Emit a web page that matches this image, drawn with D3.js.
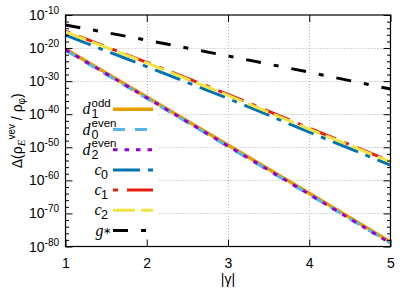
<!DOCTYPE html>
<html><head><meta charset="utf-8">
<script src="https://cdn.jsdelivr.net/npm/d3@7"></script>
<style>body{margin:0;background:#fff}svg{display:block}</style>
</head><body>
<svg id="chart" width="415" height="290"></svg>
<script>
// ---- data (log10 of Δ(ρ_E^vev/ρ_φ)) ----
const gammaValues = [1, 2, 3, 4, 5];
const d1oddLog10  = [-20.3, -34.8, -49.3, -63.9, -78.6];
const d0evenLog10 = [-20.7, -35.2, -49.8, -64.3, -79.0];
const d2evenLog10 = [-20.5, -35.0, -49.6, -64.2, -79.0];
const c0Log10     = [-16.1, -25.6, -35.2, -45.4, -55.4];
const c1Log10     = [-14.9, -24.3, -34.0, -44.2, -54.2];
const c2Log10     = [-15.1, -24.5, -34.3, -44.5, -54.4];
const gstarLog10  = [-13.0, -17.6, -22.4, -27.3, -32.4];

const seriesKeys   = ["d1odd", "d0even", "d2even", "c0", "c1", "c2", "gstar"];
const legendMain   = ["d", "d", "d", "c", "c", "c", "g"];
const legendSub    = ["1", "0", "2", "0", "1", "2", "∗"];
const legendSup    = ["odd", "even", "even", "", "", "", ""];
const xTickValues  = [1, 2, 3, 4, 5];
const yTickExponents = [-10, -20, -30, -40, -50, -60, -70, -80];

const seriesData = [d1oddLog10, d0evenLog10, d2evenLog10, c0Log10, c1Log10, c2Log10, gstarLog10];

// ---- styles ----
const styles = {
  d1odd:  {color: "#E69F00", dash: null,            width: 3.5},
  d0even: {color: "#56B4E9", dash: "12,10",         width: 3},
  d2even: {color: "#9400D3", dash: "4.5,7",         width: 3},
  c0:     {color: "#0072B2", dash: "27,8,5,8",      width: 3},
  c1:     {color: "#E51E10", dash: "5,9,27,9",      width: 3},
  c2:     {color: "#F0E442", dash: "22,6",          width: 3},
  gstar:  {color: "#000000", dash: "15,13,5,13",    width: 3}
};

const L = 65.5, R = 390.5, T = 15, B = 246.5;
const svg = d3.select("#chart");
const x = d3.scaleLinear().domain([1, 5]).range([L, R]);
const y = d3.scaleLog().domain([1e-80, 1e-10]).range([B, T]);
const pw = (e) => Math.pow(10, e);

const sans = "'Liberation Sans', Arial, Helvetica, sans-serif";
const serif = "'Liberation Serif', 'Times New Roman', serif";

// grid
const grid = svg.append("g").attr("stroke", "#b0b0b0").attr("stroke-width", 1).attr("stroke-dasharray", "1,2");
grid.selectAll("line.gy").data(yTickExponents.slice(1, -1)).enter().append("line")
  .attr("x1", L).attr("x2", R).attr("y1", d => Math.round(y(pw(d))) + 0.5).attr("y2", d => Math.round(y(pw(d))) + 0.5);
grid.selectAll("line.gx").data(xTickValues.slice(1, -1)).enter().append("line")
  .attr("y1", T).attr("y2", B).attr("x1", d => Math.round(x(d)) + 0.5).attr("x2", d => Math.round(x(d)) + 0.5);

// legend background (opaque key)
svg.append("rect").attr("x", 66.5).attr("y", 97).attr("width", 92).attr("height", 148.5).attr("fill", "#fff");

// data lines
svg.append("clipPath").attr("id", "clip").append("rect").attr("x", L).attr("y", T).attr("width", R - L).attr("height", B - T);
const line = d3.line().x(d => x(d[0])).y(d => y(pw(d[1])));
const linesG = svg.append("g").attr("clip-path", "url(#clip)");
seriesKeys.forEach((k, i) => {
  const st = styles[k];
  linesG.append("path")
    .datum(gammaValues.map((g, j) => [g, seriesData[i][j]]))
    .attr("d", line).attr("fill", "none")
    .attr("stroke", st.color).attr("stroke-width", st.width)
    .attr("stroke-dasharray", st.dash)
    .attr("stroke-linecap", "butt");
});

// axes (ticks inside)
const tickMajor = 7, tickMinor = 3.5;
const axisBottom = d3.axisBottom(x).tickValues(xTickValues).tickSize(-tickMajor).tickPadding(12).tickFormat(d3.format("d"));
const gB = svg.append("g").attr("transform", `translate(0,${B})`).call(axisBottom);
const axisTop = d3.axisTop(x).tickValues(xTickValues).tickSize(-tickMajor).tickFormat("");
const gT = svg.append("g").attr("transform", `translate(0,${T})`).call(axisTop);

const minorExps = d3.range(-80, -9, 2).filter(e => e % 10 !== 0);
const gL = svg.append("g").attr("transform", `translate(${L},0)`).call(d3.axisLeft(y).tickValues(yTickExponents.map(pw)).tickSize(-tickMajor).tickFormat(""));
const gL2 = svg.append("g").attr("transform", `translate(${L},0)`).call(d3.axisLeft(y).tickValues(minorExps.map(pw)).tickSize(-tickMinor).tickFormat(""));
const gR = svg.append("g").attr("transform", `translate(${R},0)`).call(d3.axisRight(y).tickValues(yTickExponents.map(pw)).tickSize(-tickMajor).tickFormat(""));
const gR2 = svg.append("g").attr("transform", `translate(${R},0)`).call(d3.axisRight(y).tickValues(minorExps.map(pw)).tickSize(-tickMinor).tickFormat(""));
[gB, gT, gL, gL2, gR, gR2].forEach(g => {
  g.select(".domain").remove();
  g.selectAll(".tick line").attr("stroke", "#000").attr("stroke-width", 1);
});
gB.selectAll(".tick text").attr("font-family", sans).attr("font-size", 14).attr("fill", "#000");

// frame
svg.append("rect").attr("x", L).attr("y", T).attr("width", R - L).attr("height", B - T)
  .attr("fill", "none").attr("stroke", "#000").attr("stroke-width", 1.2);

// y tick labels 10^e
yTickExponents.forEach(e => {
  const yy = y(pw(e));
  const t = svg.append("text").attr("font-family", sans).attr("fill", "#000")
    .attr("text-anchor", "end").attr("x", 59).attr("y", yy + 5);
  t.append("tspan").attr("font-size", 14).text("10");
  t.append("tspan").attr("font-size", 10).attr("dy", -6).text(String(e));
});

// x label
svg.append("text").attr("x", (L + R) / 2).attr("y", 284).attr("text-anchor", "middle")
  .attr("font-family", sans).attr("font-size", 14).text("|γ|");

// y label
const yl = svg.append("text").attr("transform", `translate(22,${(T + B) / 2}) rotate(-90)`)
  .attr("text-anchor", "middle").attr("font-family", sans).attr("font-size", 14);
yl.append("tspan").text("Δ(ρ");
yl.append("tspan").attr("font-family", serif).attr("font-style", "italic").attr("font-size", 11).attr("dy", 3).text("E");
yl.append("tspan").attr("font-size", 10).attr("dy", -10).text("vev");
yl.append("tspan").attr("dy", 7).text(" / ρ");
yl.append("tspan").attr("font-size", 10).attr("dy", 3).text("φ");
yl.append("tspan").attr("dy", -3).text(")");

// legend
const legTop = 109.3, legStep = 20.2, sx1 = 113, sx2 = 153;
seriesKeys.forEach((k, i) => {
  const st = styles[k];
  const cy = legTop + i * legStep;
  svg.append("line").attr("x1", sx1).attr("x2", sx2).attr("y1", cy).attr("y2", cy)
    .attr("stroke", st.color).attr("stroke-width", st.width).attr("stroke-dasharray", st.dash);
  const hasSup = legendSup[i] !== "";
  const isG = legendMain[i] === "g";
  const letterStart = hasSup ? 82.5 : (isG ? 95.5 : 94.5);
  const t = svg.append("text").attr("x", letterStart).attr("y", cy + 5).attr("font-family", serif);
  t.append("tspan").attr("font-style", "italic").attr("font-size", 16).text(legendMain[i]);
  const afterX = letterStart + (legendMain[i] === "d" ? 9 : (isG ? 7 : 6.5));
  if (hasSup) {
    t.append("tspan").attr("x", afterX).attr("y", cy - 2.5).attr("font-family", sans).attr("font-size", 11.5).text(legendSup[i]);
  }
  t.append("tspan").attr("x", afterX).attr("y", isG ? cy + 3 : cy + 9)
    .attr("font-family", isG ? serif : sans).attr("font-size", isG ? 10 : 12.5).text(legendSub[i]);
});
</script>
</body></html>
